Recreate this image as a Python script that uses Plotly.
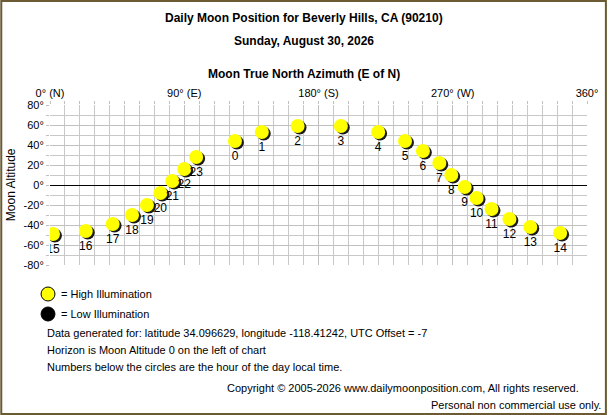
import plotly.graph_objects as go

# hourly moon position
hours = [15, 16, 17, 18, 19, 20, 21, 22, 23, 0, 1, 2, 3, 4, 5, 6, 7, 8, 9, 10, 11, 12, 13, 14]
azimuth = [2, 24, 42, 55, 65, 74, 82, 90, 98, 124, 142, 166,
           195, 220, 238, 250, 261, 269, 278, 286, 296, 308, 322, 342]
altitude = [-49, -46, -39, -30, -20, -8, 4, 16, 28, 44, 53, 59,
            59, 53, 44, 34, 22, 10, -2, -13, -24, -34, -42, -48]

az_ticks = [0, 90, 180, 270, 360]
az_labels = ["0° (N)", "90° (E)", "180° (S)", "270° (W)", "360°"]
alt_ticks = [-80, -60, -40, -20, 0, 20, 40, 60, 80]
alt_labels = [f"{v}°" for v in alt_ticks]

W, H = 610, 415
L, R, T, B = 50, 590, 105, 265   # plot area in pixels
FONT = "Liberation Sans"
SZ = 11


def px(x):
    return (x - L) / (R - L)


def py(y):
    return (B - y) / (B - T)


fig = go.Figure()

# little shadow behind each moon, shifted down-right by ~2px
fig.add_trace(go.Scatter(
    x=[a + 1.3 for a in azimuth], y=[h - 1.6 for h in altitude],
    mode="markers", marker=dict(size=14, color="#1a1a1a"),
    hoverinfo="skip", showlegend=False))

fig.add_trace(go.Scatter(
    x=azimuth, y=altitude, mode="markers+text",
    text=[str(h) for h in hours], textposition="bottom center",
    textfont=dict(family=FONT, size=12, color="black"),
    marker=dict(size=14, color="#ffff00", line=dict(width=0)),
    showlegend=False))

fig.update_xaxes(
    range=[0, 360], side="top", tickvals=az_ticks, ticktext=az_labels,
    showgrid=True, gridcolor="#c0c0c0", zeroline=False,
    ticks="outside", ticklen=3, tickcolor="#c0c0c0",
    minor=dict(dtick=10, showgrid=True, gridcolor="#c8c8c8", ticks="outside", ticklen=3, tickcolor="#c0c0c0"),
    tickfont=dict(family=FONT, size=SZ, color="black"),
    showline=False, fixedrange=True)

fig.update_yaxes(
    range=[-80, 80], tickvals=alt_ticks, ticktext=alt_labels,
    showgrid=True, gridcolor="#c0c0c0",
    zeroline=True, zerolinecolor="black", zerolinewidth=1,
    ticks="outside", ticklen=3, tickcolor="#c0c0c0",
    minor=dict(dtick=10, showgrid=True, gridcolor="#c8c8c8", ticks="outside", ticklen=3, tickcolor="#c0c0c0"),
    tickfont=dict(family=FONT, size=SZ, color="black"),
    showline=False, fixedrange=True)

notes = [
    # (text, x px, y px, anchor, bold, size)
    ("Daily Moon Position for Beverly Hills, CA (90210)", 305, 18, "center", True, 12),
    ("Sunday, August 30, 2026", 305, 41, "center", True, 12),
    ("Moon True North Azimuth (E of N)", 305, 74, "center", True, 12),
    ("= High Illumination", 59, 294, "left", False, SZ),
    ("= Low Illumination", 59, 314, "left", False, SZ),
    ("Data generated for: latitude 34.096629, longitude -118.41242, UTC Offset = -7", 45, 333, "left", False, SZ),
    ("Horizon is Moon Altitude 0 on the left of chart", 45, 350, "left", False, SZ),
    ("Numbers below the circles are the hour of the day local time.", 45, 367, "left", False, SZ),
    ("Copyright © 2005-2026 www.dailymoonposition.com, All rights reserved.", 584, 388, "right", False, SZ),
    ("Personal non commercial use only.", 606, 405, "right", False, SZ),
]
annotations = []
for txt, x, y, anchor, bold, size in notes:
    annotations.append(dict(
        text=f"<b>{txt}</b>" if bold else txt, x=px(x), y=py(y),
        xref="paper", yref="paper", xanchor=anchor, yanchor="middle",
        showarrow=False, font=dict(family=FONT, size=size, color="black")))
annotations.append(dict(
    text="Moon Altitude", x=px(11), y=py(185), xref="paper", yref="paper",
    xanchor="center", yanchor="middle",
    textangle=-90, showarrow=False, font=dict(family=FONT, size=12, color="black")))

shapes = [
    # outer brown frame
    dict(type="rect", xref="paper", yref="paper",
         x0=px(1), x1=px(W - 1), y0=py(1), y1=py(H - 1),
         line=dict(color="#6b5a32", width=2), fillcolor="rgba(0,0,0,0)"),
    # legend circles
    dict(type="circle", xref="paper", yref="paper",
         x0=px(41), x1=px(55), y0=py(287), y1=py(301),
         fillcolor="#ffff00", line=dict(color="black", width=1)),
    dict(type="circle", xref="paper", yref="paper",
         x0=px(41), x1=px(55), y0=py(307), y1=py(321),
         fillcolor="black", line=dict(color="black", width=1)),
]

fig.update_layout(
    width=W, height=H, autosize=False,
    margin=dict(l=L, r=W - R, t=T, b=H - B, pad=0),
    paper_bgcolor="white", plot_bgcolor="white",
    annotations=annotations, shapes=shapes,
    font=dict(family=FONT, size=SZ, color="black"))

fig.write_html("out.html", config={"displayModeBar": False},
               post_script="document.body.style.margin='0';")
